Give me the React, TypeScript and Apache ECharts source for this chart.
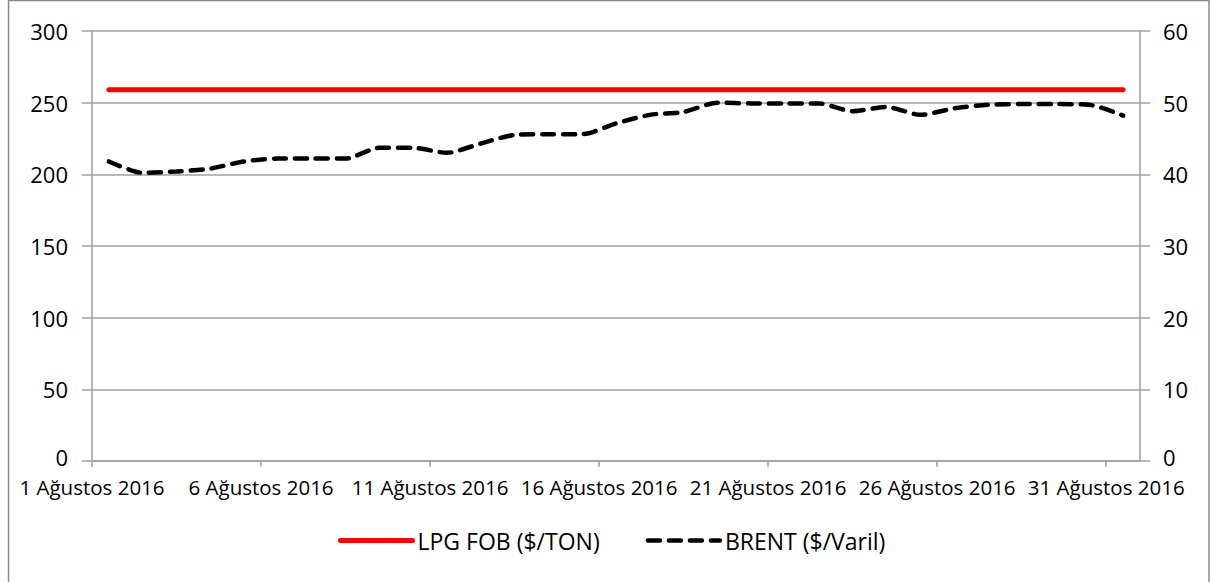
import React, { useEffect, useRef } from "react";
import * as echarts from "echarts";

const dayLabels: string[] = [
  "1 Ağustos 2016", "6 Ağustos 2016", "11 Ağustos 2016", "16 Ağustos 2016",
  "21 Ağustos 2016", "26 Ağustos 2016", "31 Ağustos 2016",
];
const days: number[] = Array.from({ length: 31 }, (_, i) => i + 1);
const lpgFob: number[] = [
  259, 259, 259, 259, 259, 259, 259, 259, 259, 259, 259, 259, 259, 259, 259, 259,
  259, 259, 259, 259, 259, 259, 259, 259, 259, 259, 259, 259, 259, 259, 259,
];
const brent: number[] = [
  41.8, 40.2, 40.4, 40.8, 41.8, 42.2, 42.2, 42.2, 43.7, 43.7, 43.0, 44.3, 45.5, 45.6, 45.6, 47.1,
  48.3, 48.7, 50.0, 49.9, 49.9, 49.9, 48.8, 49.4, 48.3, 49.2, 49.7, 49.8, 49.8, 49.7, 48.2,
];

const FONT = "'Open Sans', sans-serif";
const GRAY = "#a0a0a0";
const RED = "#ff0000";
const BLACK = "#000000";

export default function App() {
  const ref = useRef<HTMLDivElement>(null);
  useEffect(() => {
    document.body.style.margin = "0";
    if (!ref.current) return;
    const chart = echarts.init(ref.current, null, { renderer: "svg" });
    const toPoint = (v: number, i: number) => [days[i] - 0.5, v];
    const redLine = { color: RED, width: 5, cap: "round" };
    const blackLine = { color: BLACK, width: 4.5, type: [12, 9], cap: "round" };
    const yLabel = (margin: number) => ({
      margin,
      fontFamily: FONT,
      fontSize: 22,
      color: "#000",
      formatter: (v: number) => (v === 0 ? "{z|0}" : String(v)),
      rich: { z: { fontFamily: FONT, fontSize: 22, color: "#000", padding: [0, 0, 8, 0] } },
    });
    chart.setOption({
      animation: false,
      backgroundColor: "#ffffff",
      textStyle: { fontFamily: FONT },
      graphic: [
        {
          type: "rect",
          shape: { x: 8.5, y: 0.5, width: 1200.5, height: 700 },
          style: { fill: "none", stroke: "#8a8a8a", lineWidth: 1.5 },
          silent: true,
        },
      ],
      grid: { left: 92, right: 70, top: 31, bottom: 121, containLabel: false },
      legend: {
        bottom: 25,
        left: 333,
        itemWidth: 72,
        itemHeight: 14,
        itemGap: 46,
        textStyle: { fontFamily: FONT, fontSize: 23, color: "#000" },
        data: [
          { name: "LPG FOB ($/TON)", itemStyle: { opacity: 0 }, lineStyle: redLine },
          { name: "BRENT ($/Varil)", itemStyle: { opacity: 0 }, lineStyle: blackLine },
        ],
      },
      xAxis: {
        type: "value",
        min: 0,
        max: 31,
        interval: 5,
        axisLine: { show: true, lineStyle: { color: GRAY, width: 1.5 } },
        axisTick: { show: true, length: 6, lineStyle: { color: GRAY, width: 1.5 } },
        splitLine: { show: false },
        axisLabel: {
          showMaxLabel: false,
          margin: 15,
          lineHeight: 22,
          fontFamily: FONT,
          fontSize: 20.5,
          color: "#000",
          formatter: (v: number) => {
            const idx = Math.round(v / 5);
            return v % 5 === 0 && idx < dayLabels.length ? dayLabels[idx] : "";
          },
        },
      },
      yAxis: [
        {
          type: "value",
          min: 0,
          max: 300,
          interval: 50,
          axisLine: { show: true, lineStyle: { color: GRAY, width: 1.5 } },
          axisTick: { show: true, length: 10, lineStyle: { color: GRAY, width: 1.5 } },
          splitLine: { show: true, lineStyle: { color: GRAY, width: 1.5 } },
          axisLabel: yLabel(24),
        },
        {
          type: "value",
          min: 0,
          max: 60,
          interval: 10,
          position: "right",
          axisLine: { show: true, lineStyle: { color: GRAY, width: 1.5 } },
          axisTick: { show: true, length: 10, lineStyle: { color: GRAY, width: 1.5 } },
          splitLine: { show: false },
          axisLabel: yLabel(23),
        },
      ],
      series: [
        {
          name: "LPG FOB ($/TON)",
          type: "line",
          yAxisIndex: 0,
          symbol: "none",
          data: lpgFob.map(toPoint),
          lineStyle: redLine,
          itemStyle: { color: RED },
        },
        {
          name: "BRENT ($/Varil)",
          type: "line",
          yAxisIndex: 1,
          symbol: "none",
          smooth: 0.25,
          data: brent.map(toPoint),
          lineStyle: blackLine,
          itemStyle: { color: BLACK },
        },
      ],
    });
    return () => chart.dispose();
  }, []);
  return <div ref={ref} style={{ width: 1210, height: 582 }} />;
}
